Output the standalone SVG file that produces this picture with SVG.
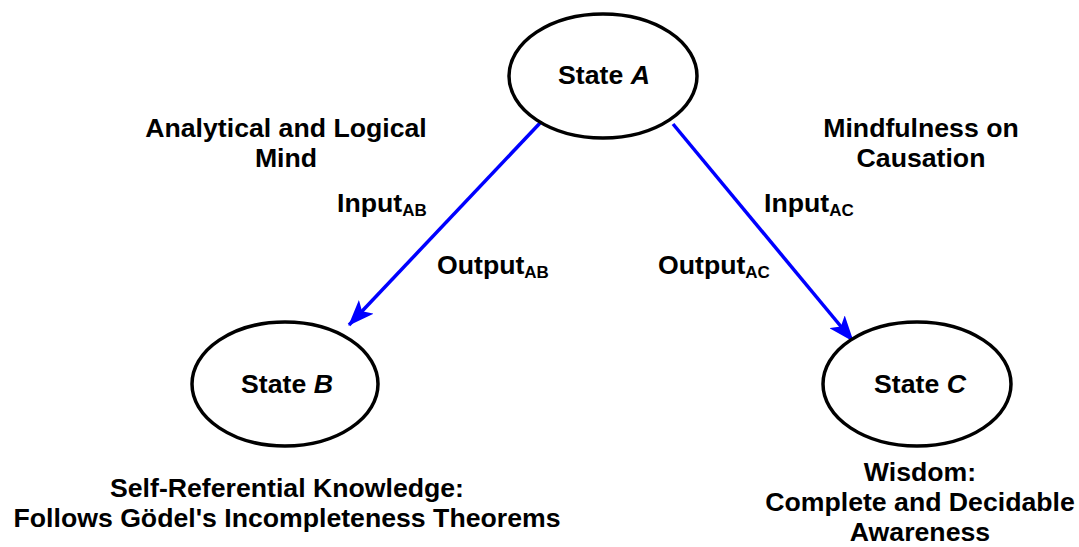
<svg xmlns="http://www.w3.org/2000/svg" width="1079" height="547" viewBox="0 0 1079 547">
<defs>
<style>
text{font-family:"Liberation Sans",Arial,sans-serif;font-weight:bold;font-size:26.67px;fill:#000}
.c{text-anchor:middle}
.node{fill:#fff;stroke:#000;stroke-width:3.5}
.edge{stroke:#0000ff;stroke-width:3.5;fill:none}
.sub{font-size:17px}
</style>
<marker id="ah" viewBox="0 0 26 20" refX="25" refY="10" markerWidth="26" markerHeight="20" markerUnits="userSpaceOnUse" orient="auto">
<path d="M0,0 L26,10 L0,20 L6,10 Z" fill="#0000ff"/>
</marker>
</defs>
<rect width="1079" height="547" fill="#fff"/>
<g id="connectors">
<line class="edge" x1="541" y1="122" x2="349" y2="325" marker-end="url(#ah)"/>
<line class="edge" x1="673" y1="124" x2="853" y2="341" marker-end="url(#ah)"/>
<text x="337" y="212">Input<tspan class="sub" dy="4">AB</tspan></text>
<text x="437" y="274">Output<tspan class="sub" dy="4">AB</tspan></text>
<text x="764" y="212">Input<tspan class="sub" dy="4">AC</tspan></text>
<text x="658" y="274">Output<tspan class="sub" dy="4">AC</tspan></text>
</g>
<g id="stateA">
<ellipse class="node" cx="603" cy="76" rx="94" ry="62"/>
<text class="c" x="604" y="84">State <tspan font-style="italic">A</tspan></text>
</g>
<g id="stateB">
<ellipse class="node" cx="285" cy="384" rx="93" ry="62"/>
<text class="c" x="287" y="393">State <tspan font-style="italic">B</tspan></text>
</g>
<g id="stateC">
<ellipse class="node" cx="917" cy="384" rx="94" ry="62"/>
<text class="c" x="920" y="393">State <tspan font-style="italic">C</tspan></text>
</g>
<g id="labelA1">
<text class="c" x="286" y="137">Analytical and Logical</text>
<text class="c" x="286" y="167">Mind</text>
</g>
<g id="labelA2">
<text class="c" x="921" y="137">Mindfulness on</text>
<text class="c" x="921" y="167">Causation</text>
</g>
<g id="labelB">
<text class="c" x="287" y="497">Self-Referential Knowledge:</text>
<text class="c" x="287" y="527">Follows Gödel's Incompleteness Theorems</text>
</g>
<g id="labelC">
<text class="c" x="920" y="481">Wisdom:</text>
<text class="c" x="920" y="511">Complete and Decidable</text>
<text class="c" x="920" y="541">Awareness</text>
</g>
</svg>
